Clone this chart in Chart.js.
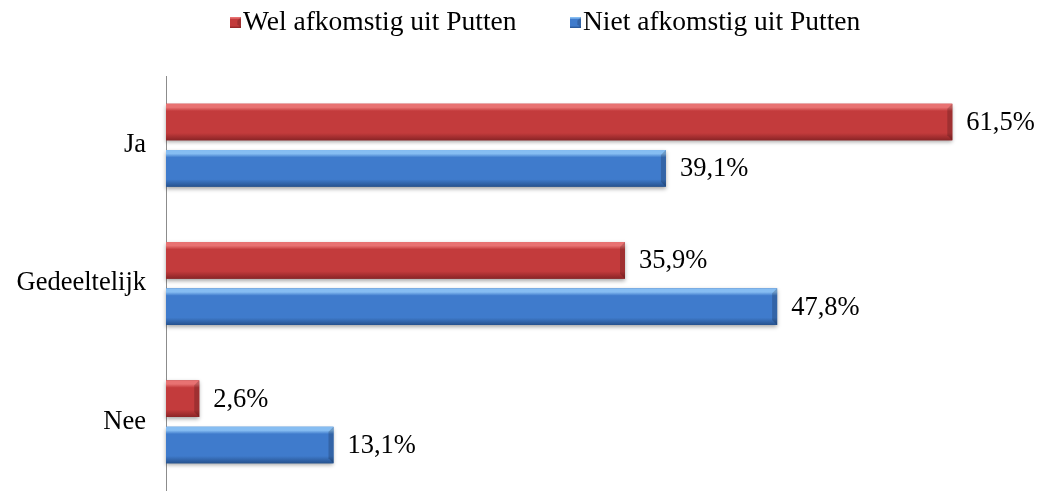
<!DOCTYPE html>
<html>
<head>
<meta charset="utf-8">
<script src="https://cdn.jsdelivr.net/npm/chart.js@4/dist/chart.umd.min.js"></script>
<style>
  html, body { margin: 0; padding: 0; background: #fff; overflow: hidden; }
  canvas { display: block; }
</style>
</head>
<body>
<canvas id="grafiek" width="1038" height="491"></canvas>
<script>
const categorieen = ['Ja', 'Gedeeltelijk', 'Nee'];
const welPutten = [61.5, 35.9, 2.6];
const nietPutten = [39.1, 47.8, 13.1];
const reeksNamen = ['Wel afkomstig uit Putten', 'Niet afkomstig uit Putten'];

const FONT = '"Liberation Serif", "Times New Roman", serif';

// kleuren per reeks: licht (boven), basis, donker (onder)
const tinten = [
  { licht: '#e87272', basis: '#c33b3c', donker: '#8a2426' },
  { licht: '#86bdf2', basis: '#3f7bcc', donker: '#26528e' }
];

function bevelVlak(ctx, t, left, top, right, bottom, schaduw) {
  const h = bottom - top;
  ctx.save();
  if (schaduw) {
    ctx.shadowColor = 'rgba(0,0,0,0.35)';
    ctx.shadowBlur = 4;
    ctx.shadowOffsetY = 2;
  }
  const g = ctx.createLinearGradient(0, top, 0, bottom);
  g.addColorStop(0, t.licht);
  g.addColorStop(0.1, t.licht);
  g.addColorStop(0.2, t.basis);
  g.addColorStop(0.8, t.basis);
  g.addColorStop(1, t.donker);
  ctx.fillStyle = g;
  ctx.fillRect(left, top, right - left, h);
  ctx.restore();
  const b = Math.min(5, (right - left) / 3, h / 3);
  ctx.save();
  ctx.fillStyle = 'rgba(0,0,0,0.18)';
  ctx.beginPath();
  ctx.moveTo(right, top);
  ctx.lineTo(right, bottom);
  ctx.lineTo(right - b, bottom - b);
  ctx.lineTo(right - b, top + b);
  ctx.closePath();
  ctx.fill();
  ctx.restore();
}

// afgeschuinde balken over de gewone balk heen tekenen
const bevelPlugin = {
  id: 'bevel',
  afterDatasetsDraw(chart) {
    const ctx = chart.ctx;
    chart.data.datasets.forEach((ds, di) => {
      chart.getDatasetMeta(di).data.forEach(bar => {
        bevelVlak(ctx, tinten[di], bar.base, bar.y - bar.height / 2,
          bar.x, bar.y + bar.height / 2, true);
      });
    });
  }
};

// percentages naast de balken
const labelPlugin = {
  id: 'waarden',
  afterDatasetsDraw(chart) {
    const ctx = chart.ctx;
    ctx.save();
    ctx.font = '26.5px ' + FONT;
    ctx.fillStyle = '#000';
    ctx.textBaseline = 'middle';
    ctx.textAlign = 'left';
    chart.data.datasets.forEach((ds, di) => {
      chart.getDatasetMeta(di).data.forEach((bar, i) => {
        const txt = ds.data[i].toFixed(1).replace('.', ',') + '%';
        ctx.fillText(txt, bar.x + 14, bar.y + 1);
      });
    });
    ctx.restore();
  }
};

// legenda bovenaan, blokje vlak tegen de tekst
const legendaPlugin = {
  id: 'legenda',
  afterDraw(chart) {
    const ctx = chart.ctx;
    const posities = [230, 570];
    ctx.save();
    ctx.font = '27.5px ' + FONT;
    ctx.textBaseline = 'middle';
    ctx.textAlign = 'left';
    reeksNamen.forEach((naam, i) => {
      const x = posities[i];
      bevelVlak(ctx, tinten[i], x, 17, x + 11, 28, false);
      ctx.fillStyle = '#000';
      ctx.fillText(naam, x + 13, 23);
    });
    ctx.restore();
  }
};

new Chart(document.getElementById('grafiek'), {
  type: 'bar',
  data: {
    labels: categorieen,
    datasets: [
      { label: reeksNamen[0], data: welPutten, backgroundColor: tinten[0].basis },
      { label: reeksNamen[1], data: nietPutten, backgroundColor: tinten[1].basis }
    ]
  },
  plugins: [bevelPlugin, labelPlugin, legendaPlugin],
  options: {
    indexAxis: 'y',
    responsive: false,
    animation: false,
    categoryPercentage: 0.67,
    barPercentage: 0.79,
    layout: { padding: { top: 76, right: 9, bottom: 0, left: 0 } },
    plugins: {
      tooltip: { enabled: false },
      legend: { display: false }
    },
    scales: {
      x: {
        display: false,
        min: 0,
        max: 67.5
      },
      y: {
        afterFit: scale => {
          scale.width = 166;
          scale.paddingTop = 0;
          scale.paddingBottom = 0;
        },
        grid: { display: false, drawTicks: false },
        border: { display: true, color: '#8c8c8c', width: 1 },
        ticks: {
          padding: 20,
          color: '#000',
          font: { family: FONT, size: 26.5 }
        }
      }
    }
  }
});
</script>
</body>
</html>
